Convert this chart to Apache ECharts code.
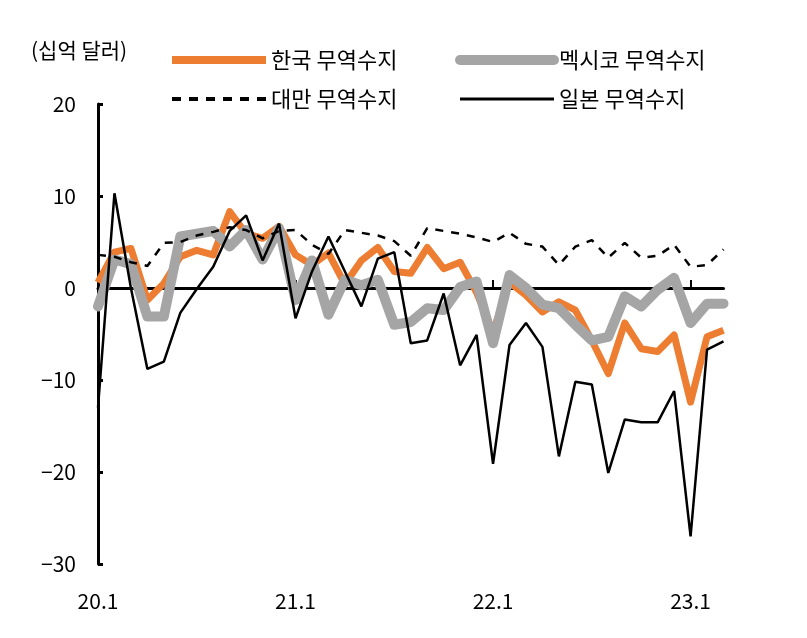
<!DOCTYPE html>
<html><head><meta charset="utf-8">
<script src="https://cdn.jsdelivr.net/npm/echarts@6/dist/echarts.min.js"></script>
<style>html,body{margin:0;padding:0;background:#fff}#c{width:807px;height:638px}</style>
</head><body><div id="c"></div>
<script>
const months = ['20.1','20.2','20.3','20.4','20.5','20.6','20.7','20.8','20.9','20.10','20.11','20.12',
  '21.1','21.2','21.3','21.4','21.5','21.6','21.7','21.8','21.9','21.10','21.11','21.12',
  '22.1','22.2','22.3','22.4','22.5','22.6','22.7','22.8','22.9','22.10','22.11','22.12',
  '23.1','23.2','23.3'];
const korea = [0.6,3.9,4.3,-1.3,0.5,3.4,4.1,3.6,8.3,5.9,5.4,6.7,
  3.6,2.5,3.8,0.4,3.0,4.4,1.8,1.6,4.4,2.1,2.8,-0.5,
  -4.8,0.6,-0.8,-2.6,-1.5,-2.4,-5.7,-9.3,-3.8,-6.6,-6.9,-5.1,
  -12.4,-5.3,-4.6];
const mexico = [-2.0,3.1,2.6,-3.1,-3.1,5.6,5.9,6.2,4.5,6.3,3.1,6.5,
  -1.3,3.0,-2.9,0.9,0.3,0.9,-4.0,-3.7,-2.2,-2.4,0.1,0.7,
  -6.0,1.4,0.0,-1.8,-2.2,-4.0,-5.7,-5.3,-0.9,-2.0,-0.2,1.1,
  -3.8,-1.7,-1.7];
const taiwan = [3.6,3.4,2.8,2.4,4.9,5.0,5.7,6.1,6.6,6.3,5.4,6.2,
  6.3,4.7,3.7,6.3,6.0,5.7,5.1,3.5,6.5,6.2,5.9,5.5,
  5.0,6.0,4.8,4.5,2.5,4.5,5.2,3.3,4.9,3.3,3.5,4.7,
  2.3,2.5,4.2];
const japan = [-13.0,10.3,0.0,-8.8,-8.0,-2.7,-0.1,2.3,6.2,7.9,3.0,7.0,
  -3.3,1.8,5.6,1.8,-2.0,3.2,3.9,-6.0,-5.7,-0.6,-8.4,-5.1,
  -19.1,-6.2,-3.8,-6.4,-18.3,-10.2,-10.5,-20.1,-14.3,-14.6,-14.6,-11.2,
  -27.0,-6.7,-5.8];
const yTicks = {min: -30, max: 20, step: 10};
const names = ['한국 무역수지','멕시코 무역수지','대만 무역수지','일본 무역수지'];
const unitLabel = '(십억 달러)';

const FONT = '"Noto Sans CJK KR", "Noto Sans", sans-serif';
const noSym = {opacity: 0};
const chart = echarts.init(document.getElementById('c'), null, {renderer: 'canvas'});
chart.setOption({
  animation: false,
  backgroundColor: '#fff',
  textStyle: {fontFamily: FONT},
  title: {text: unitLabel, left: 26, top: 35,
    textStyle: {fontSize: 21, fontWeight: 'normal', color: '#000', fontFamily: FONT}},
  legend: [
    {left: 163, top: 44, orient: 'vertical', itemGap: 17, itemWidth: 94, itemHeight: 24,
     textStyle: {fontSize: 22, color: '#000', fontFamily: FONT},
     data: [{name: names[0], lineStyle: {width: 8, cap: 'butt'}, itemStyle: noSym},
            {name: names[2], lineStyle: {width: 4, type: [9, 8]}, itemStyle: noSym}]},
    {left: 450, top: 44, orient: 'vertical', itemGap: 17, itemWidth: 94, itemHeight: 24,
     textStyle: {fontSize: 22, color: '#000', fontFamily: FONT},
     data: [{name: names[1], lineStyle: {width: 10, cap: 'round'}, itemStyle: noSym},
            {name: names[3], lineStyle: {width: 3}, itemStyle: noSym}]}
  ],
  grid: {left: 98, right: 83.5, top: 104, bottom: 74, containLabel: false},
  xAxis: [
    {type: 'category', data: months, boundaryGap: false, position: 'bottom',
     axisLine: {show: false, onZero: false}, axisTick: {show: false},
     axisLabel: {interval: 11, margin: 27, fontSize: 21, color: '#000', fontFamily: FONT},
     splitLine: {show: false}},
    {type: 'category', data: months, boundaryGap: false, position: 'bottom',
     axisLine: {show: true, onZero: true, lineStyle: {color: '#000', width: 3}},
     axisTick: {show: true, inside: true, interval: 11, length: 8, lineStyle: {color: '#000', width: 2}},
     axisLabel: {show: false}, splitLine: {show: false}}
  ],
  yAxis: {type: 'value', min: yTicks.min, max: yTicks.max, interval: yTicks.step,
    axisLine: {show: true, onZero: false, lineStyle: {color: '#000', width: 3}},
    axisTick: {show: true, inside: true, length: 5, lineStyle: {color: '#000', width: 3}},
    axisLabel: {margin: 22, fontSize: 21, color: '#000', fontFamily: FONT,
      formatter: v => String(v).replace('-', '\u2212')},
    splitLine: {show: false}},
  series: [
    {name: names[0], type: 'line', data: korea, symbol: 'none', z: 2,
     lineStyle: {color: '#ED7D31', width: 7, join: 'round'}, itemStyle: {color: '#ED7D31'}},
    {name: names[1], type: 'line', data: mexico, symbol: 'none', z: 3,
     lineStyle: {color: '#A5A5A5', width: 10, join: 'round', cap: 'round'}, itemStyle: {color: '#A5A5A5'}},
    {name: names[2], type: 'line', data: taiwan, symbol: 'none', z: 4,
     lineStyle: {color: '#000', width: 2.5, type: [8, 8]}, itemStyle: {color: '#000'}},
    {name: names[3], type: 'line', data: japan, symbol: 'none', z: 5,
     lineStyle: {color: '#000', width: 2.5}, itemStyle: {color: '#000'}}
  ]
});
</script></body></html>
